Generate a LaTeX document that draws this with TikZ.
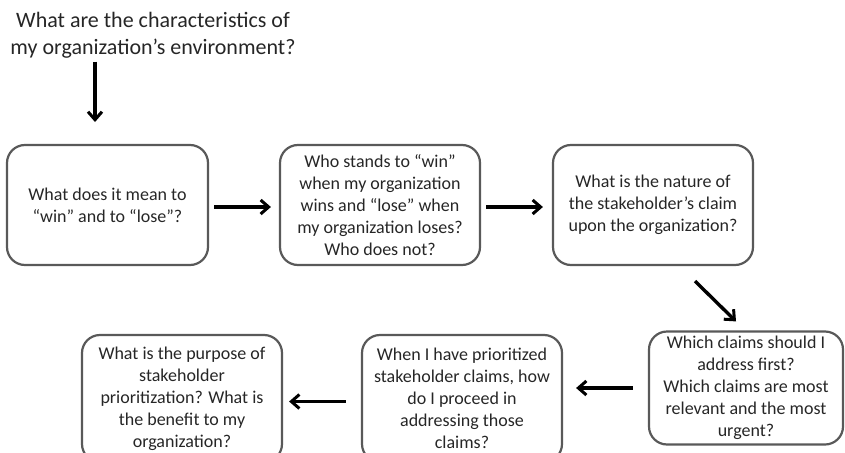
\documentclass[tikz,border=0pt]{standalone}
\usepackage{fontspec}
\setmainfont{Carlito}
\usetikzlibrary{arrows.meta, positioning, calc}
\definecolor{boxgray}{HTML}{595959}
\definecolor{inkgray}{HTML}{262626}

\begin{document}
\begin{tikzpicture}[x=1pt, y=-1pt,
  qbox/.style={draw=boxgray, line width=2.2pt, rounded corners=18pt, align=center,
    text=inkgray, font=\fontsize{18}{22}\selectfont, inner sep=0pt},
  flow/.style={->, line width=3.4pt, >={Straight Barb[length=8pt, width=14pt, line width=3pt]}}]

\useasboundingbox (0,0) rectangle (845,452);

% Title
\node[text=inkgray, font=\fontsize{22}{27}\selectfont, align=center] (title) at (153,35)
  {What are the characteristics of\\my organization's environment?};

% Top row
\node[qbox, minimum width=201pt, minimum height=120pt] (b1) at (107.5,205)
  {What does it mean to\\``win'' and to ``lose''?};
\node[qbox, minimum width=200pt, minimum height=120pt] (b2) at (380,205)
  {Who stands to ``win''\\when my organization\\wins and ``lose'' when\\my organization loses?\\Who does not?};
\node[qbox, minimum width=200pt, minimum height=120pt] (b3) at (653,205)
  {What is the nature of\\the stakeholder's claim\\upon the organization?};

% Bottom row
\node[qbox, minimum width=194pt, minimum height=113pt] (b4) at (746,388)
  {Which claims should I\\address first?\\Which claims are most\\relevant and the most\\urgent?};
\node[qbox, minimum width=200pt, minimum height=127pt] (b5) at (462,398.5)
  {When I have prioritized\\stakeholder claims, how\\do I proceed in\\addressing those\\claims?};
\node[qbox, minimum width=200pt, minimum height=127pt] (b6) at (182,398.5)
  {What is the purpose of\\stakeholder\\prioritization? What is\\the benefit to my\\organization?};

% Arrows
\coordinate (dn) at (95,122);
\draw[flow] (title.south -| dn) -- (dn);
\draw[flow, shorten <=5pt, shorten >=8pt] ([yshift=-2pt]b1.east) -- ([yshift=-2pt]b1.east -| b2.west);
\draw[flow, shorten <=5pt, shorten >=9pt] ([yshift=-2pt]b2.east) -- ([yshift=-2pt]b2.east -| b3.west);
\draw[flow] ($(b3.south)+(42,15)$) -- ($(b4.north)+(-10,-9)$);
\draw[flow, shorten <=15pt, shorten >=13pt] (b4.west) -- (b4.west -| b5.east);
\draw[flow, shorten <=15pt, shorten >=6pt] ([yshift=-3pt]b5.west) -- ([yshift=-3pt]b5.west -| b6.east);

\end{tikzpicture}
\end{document}
